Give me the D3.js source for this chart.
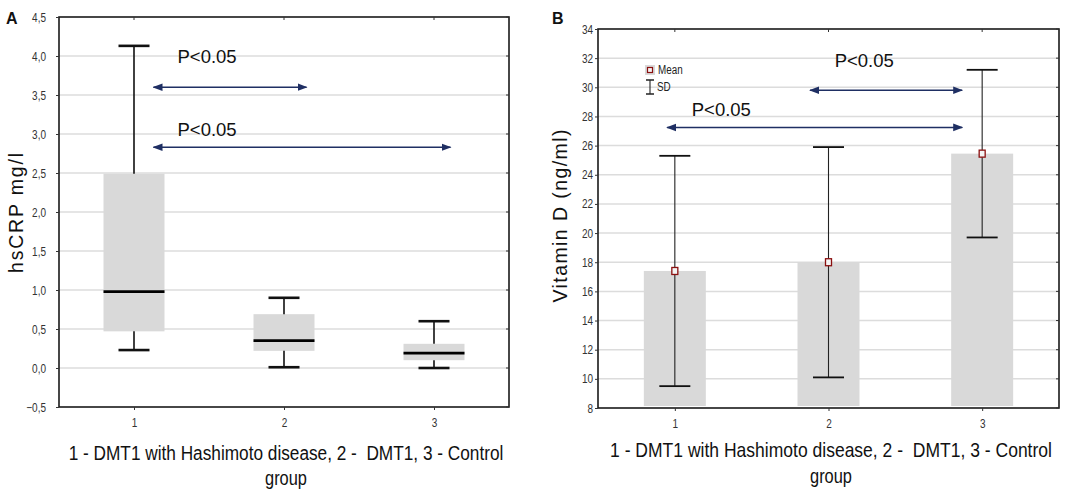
<!DOCTYPE html>
<html>
<head>
<meta charset="utf-8">
<script src="https://cdn.jsdelivr.net/npm/d3@7/dist/d3.min.js"></script>
<style>
  html, body { margin: 0; padding: 0; background: #fff; }
  svg { display: block; }
</style>
</head>
<body>
<svg id="chart" width="1084" height="498"></svg>
<script>
// ---------- DATA ----------
const groups = ["1", "2", "3"];

// Panel A: hsCRP (mg/l) box plots
const crpMin    = [0.23, 0.01, 0.00];
const crpQ1     = [0.47, 0.22, 0.10];
const crpMedian = [0.98, 0.35, 0.19];
const crpQ3     = [2.49, 0.69, 0.31];
const crpMax    = [4.13, 0.90, 0.60];
const crpTicks  = [-0.5, 0.0, 0.5, 1.0, 1.5, 2.0, 2.5, 3.0, 3.5, 4.0, 4.5];

// Panel B: Vitamin D (ng/ml) mean ± SD
const vitDMean  = [17.4, 18.0, 25.45];
const vitDSD    = [7.9, 7.9, 5.75];
const vitDTicks = [8, 10, 12, 14, 16, 18, 20, 22, 24, 26, 28, 30, 32, 34];

// Significance annotations (positions in group units / data units)
const crpArrows  = [{x1: 1.13, x2: 2.15, y: 3.60, lx: 1.29, ly: 3.91, label: "P<0.05"},
                    {x1: 1.13, x2: 3.11, y: 2.83, lx: 1.29, ly: 2.97, label: "P<0.05"}];
const vitDArrows = [{x1: 1.88, x2: 2.87, y: 29.8, lx: 2.04, ly: 31.4, label: "P<0.05"},
                    {x1: 0.95, x2: 2.87, y: 27.25, lx: 1.11, ly: 28.0, label: "P<0.05"}];

const xTitle1 = "1 - DMT1 with Hashimoto disease, 2 -  DMT1, 3 - Control";
const xTitle2 = "group";

// ---------- DRAW ----------
const svg = d3.select("#chart");
const NARROW = "'Liberation Sans Narrow', 'Arial Narrow', 'Liberation Sans', Arial, sans-serif";
const SANS = "'Liberation Sans', Arial, Helvetica, sans-serif";
const ARROW = "#1f2f63";

// condense small text horizontally (narrow-font look)
function narrowify(sel, f) {
  sel.each(function () {
    const len = this.getComputedTextLength();
    if (len > 0) d3.select(this).attr("textLength", len * f).attr("lengthAdjust", "spacingAndGlyphs");
  });
}

// centered text condensed via a transform so its real box is the drawn box
function condensedText(g, cx, baseline, str, size, target, factor) {
  const t = g.append("text").attr("x", 0).attr("y", 0).attr("text-anchor", "middle")
    .attr("font-family", NARROW).attr("font-size", size).attr("fill", "#111")
    .attr("xml:space", "preserve").style("white-space", "pre")
    .text(str);
  const len = t.node().getComputedTextLength();
  const s = target ? target / len : factor;
  t.attr("transform", `translate(${cx},${baseline}) scale(${s},1)`);
  return t;
}

const defs = svg.append("defs");
defs.append("marker")
  .attr("id", "ah").attr("viewBox", "0 0 10 10")
  .attr("refX", 9).attr("refY", 5)
  .attr("markerWidth", 10).attr("markerHeight", 10)
  .attr("markerUnits", "userSpaceOnUse")
  .attr("orient", "auto-start-reverse")
  .append("path").attr("d", "M0,1.2 L10,5 L0,8.8 Z").attr("fill", ARROW);

const commaFmt = v => d3.format(".1f")(v).replace(".", ",").replace("-0,0", "0,0");

function frame(g, x0, x1, y0, y1) {
  g.append("rect").attr("x", x0).attr("y", y0).attr("width", x1 - x0).attr("height", y1 - y0)
    .attr("fill", "none").attr("stroke", "#1a1a1a").attr("stroke-width", 1.6);
}

function grid(g, y, ticks, x0, x1) {
  g.append("g").selectAll("line").data(ticks).join("line")
    .attr("x1", x0).attr("x2", x1)
    .attr("y1", d => y(d)).attr("y2", d => y(d))
    .attr("stroke", "#dcdcdc").attr("stroke-width", 1.5);
}

function axes(g, x, y, ticks, fmt, x0, x1, y0, y1, labelGap) {
  const left = d3.axisLeft(y).tickValues(ticks).tickFormat(fmt).tickSize(3).tickPadding(labelGap);
  const ga = g.append("g").attr("transform", `translate(${x0},0)`).call(left);
  ga.select(".domain").remove();
  ga.selectAll("text").attr("font-family", NARROW).attr("font-size", 12.5).attr("fill", "#333");
  narrowify(ga.selectAll("text"), 0.8);
  ga.selectAll("line").attr("stroke", "#333");
  // right inner ticks
  g.append("g").selectAll("line").data(ticks).join("line")
    .attr("x1", x1 - 3).attr("x2", x1).attr("y1", d => y(d)).attr("y2", d => y(d))
    .attr("stroke", "#333");
  const bottom = d3.axisBottom(x).tickValues([1, 2, 3]).tickFormat(d3.format("d")).tickSize(3).tickPadding(8);
  const gb = g.append("g").attr("transform", `translate(0,${y0})`).call(bottom);
  gb.select(".domain").remove();
  gb.selectAll("text").attr("font-family", NARROW).attr("font-size", 12.5).attr("fill", "#333");
  narrowify(gb.selectAll("text"), 0.8);
  gb.selectAll("line").attr("stroke", "#333");
  // top inner ticks
  g.append("g").selectAll("line").data([1, 2, 3]).join("line")
    .attr("x1", d => x(d)).attr("x2", d => x(d)).attr("y1", y1).attr("y2", y1 + 3)
    .attr("stroke", "#333");
}

function arrows(g, x, y, data) {
  g.append("g").selectAll("line").data(data).join("line")
    .attr("x1", d => x(d.x1)).attr("x2", d => x(d.x2))
    .attr("y1", d => y(d.y)).attr("y2", d => y(d.y))
    .attr("stroke", ARROW).attr("stroke-width", 1.5)
    .attr("marker-start", "url(#ah)").attr("marker-end", "url(#ah)");
  g.append("g").selectAll("text").data(data).join("text")
    .attr("x", d => x(d.lx)).attr("y", d => y(d.ly))
    .attr("font-family", SANS).attr("font-size", 18.5).attr("fill", "#111")
    .text(d => d.label);
}

function titles(g, cx, yLabel, yLabelX, yLabelCY, yLabelLen, xTitleLen, b1, b2) {
  g.append("text").attr("transform", `translate(${yLabelX},${yLabelCY}) rotate(-90)`)
    .attr("text-anchor", "middle").attr("font-family", SANS).attr("font-size", 19.5).attr("fill", "#111")
    .attr("textLength", yLabelLen).attr("lengthAdjust", "spacing")
    .text(yLabel);
  condensedText(g, cx, b1, xTitle1, 20, xTitleLen, null);
  condensedText(g, cx, b2, xTitle2, 20, null, 0.82);
}

// ---------- PANEL A ----------
{
  const L = 59, R = 509, T = 17, B = 407;
  const g = svg.append("g");
  const x = d3.scaleLinear().domain([0.5, 3.5]).range([L, R]);
  const y = d3.scaleLinear().domain([-0.5, 4.5]).range([B, T]);
  grid(g, y, crpTicks.slice(1, -1), L, R);

  const bw = 61, cap = 31;
  const boxes = groups.map((k, i) => ({k: +k, min: crpMin[i], q1: crpQ1[i], med: crpMedian[i], q3: crpQ3[i], max: crpMax[i]}));
  const bg = g.append("g").selectAll("g").data(boxes).join("g");
  bg.append("rect").attr("x", d => x(d.k) - bw / 2).attr("width", bw)
    .attr("y", d => y(d.q3)).attr("height", d => y(d.q1) - y(d.q3)).attr("fill", "#d9d9d9");
  bg.append("line").attr("x1", d => x(d.k)).attr("x2", d => x(d.k))
    .attr("y1", d => y(d.q3)).attr("y2", d => y(d.max)).attr("stroke", "#111").attr("stroke-width", 1.6);
  bg.append("line").attr("x1", d => x(d.k)).attr("x2", d => x(d.k))
    .attr("y1", d => y(d.q1)).attr("y2", d => y(d.min)).attr("stroke", "#111").attr("stroke-width", 1.6);
  bg.append("line").attr("x1", d => x(d.k) - cap / 2).attr("x2", d => x(d.k) + cap / 2)
    .attr("y1", d => y(d.max)).attr("y2", d => y(d.max)).attr("stroke", "#111").attr("stroke-width", 2.6);
  bg.append("line").attr("x1", d => x(d.k) - cap / 2).attr("x2", d => x(d.k) + cap / 2)
    .attr("y1", d => y(d.min)).attr("y2", d => y(d.min)).attr("stroke", "#111").attr("stroke-width", 2.6);
  bg.append("line").attr("x1", d => x(d.k) - bw / 2).attr("x2", d => x(d.k) + bw / 2)
    .attr("y1", d => y(d.med)).attr("y2", d => y(d.med)).attr("stroke", "#000").attr("stroke-width", 2.8);

  frame(g, L, R, T, B);
  axes(g, x, y, crpTicks, commaFmt, L, R, B, T, 10);
  arrows(g, x, y, crpArrows);
  titles(g, 286, "hsCRP mg/l", 23, 213, 120, 435, 460, 485);
  g.append("text").attr("x", 6).attr("y", 24).attr("font-family", SANS).attr("font-weight", "bold")
    .attr("font-size", 16).attr("fill", "#111").text("A");
}

// ---------- PANEL B ----------
{
  const L = 598, R = 1059, T = 29, B = 408;
  const g = svg.append("g");
  const x = d3.scaleLinear().domain([0.5, 3.5]).range([L, R]);
  const y = d3.scaleLinear().domain([8, 34]).range([B, T]);
  grid(g, y, vitDTicks.slice(1, -1), L, R);

  const bw = 62, cap = 31;
  const bars = groups.map((k, i) => ({k: +k, m: vitDMean[i], sd: vitDSD[i]}));
  const bg = g.append("g").selectAll("g").data(bars).join("g");
  bg.append("rect").attr("x", d => x(d.k) - bw / 2).attr("width", bw)
    .attr("y", d => y(d.m)).attr("height", d => y(8) - 2 - y(d.m)).attr("fill", "#d9d9d9");
  bg.append("line").attr("x1", d => x(d.k)).attr("x2", d => x(d.k))
    .attr("y1", d => y(d.m + d.sd)).attr("y2", d => y(d.m - d.sd))
    .attr("stroke", "#222").attr("stroke-width", 1.1);
  bg.append("line").attr("x1", d => x(d.k) - cap / 2).attr("x2", d => x(d.k) + cap / 2)
    .attr("y1", d => y(d.m + d.sd)).attr("y2", d => y(d.m + d.sd)).attr("stroke", "#111").attr("stroke-width", 1.8);
  bg.append("line").attr("x1", d => x(d.k) - cap / 2).attr("x2", d => x(d.k) + cap / 2)
    .attr("y1", d => y(d.m - d.sd)).attr("y2", d => y(d.m - d.sd)).attr("stroke", "#111").attr("stroke-width", 1.8);
  bg.append("rect").attr("x", d => x(d.k) - 3).attr("y", d => y(d.m) - 3.5)
    .attr("width", 6).attr("height", 7).attr("fill", "#f4f4f4")
    .attr("stroke", "#8b1010").attr("stroke-width", 1.3);

  frame(g, L, R, T, B);
  axes(g, x, y, vitDTicks, d3.format("d"), L, R, B, T, 2);
  arrows(g, x, y, vitDArrows);
  titles(g, 831, "Vitamin D (ng/ml)", 567, 216, 173, 442, 457, 483);
  g.append("text").attr("x", 552).attr("y", 24).attr("font-family", SANS).attr("font-weight", "bold")
    .attr("font-size", 16).attr("fill", "#111").text("B");

  // legend
  const lg = g.append("g");
  lg.append("rect").attr("x", 645).attr("y", 65).attr("width", 10).attr("height", 10).attr("fill", "#d9d9d9");
  lg.append("rect").attr("x", 647.5).attr("y", 67.5).attr("width", 5).attr("height", 5)
    .attr("fill", "#f4f4f4").attr("stroke", "#8b1010").attr("stroke-width", 1.2);
  const t1 = lg.append("text").attr("x", 658).attr("y", 74).attr("font-family", NARROW).attr("font-size", 12)
    .attr("fill", "#222").text("Mean");
  narrowify(t1, 0.82);
  lg.append("line").attr("x1", 650).attr("x2", 650).attr("y1", 80).attr("y2", 94).attr("stroke", "#222").attr("stroke-width", 1.1);
  lg.append("line").attr("x1", 646).attr("x2", 654).attr("y1", 80).attr("y2", 80).attr("stroke", "#222").attr("stroke-width", 1.5);
  lg.append("line").attr("x1", 646).attr("x2", 654).attr("y1", 94).attr("y2", 94).attr("stroke", "#222").attr("stroke-width", 1.5);
  const t2 = lg.append("text").attr("x", 657).attr("y", 91).attr("font-family", NARROW).attr("font-size", 12)
    .attr("fill", "#222").text("SD");
  narrowify(t2, 0.82);
}
</script>
</body>
</html>
